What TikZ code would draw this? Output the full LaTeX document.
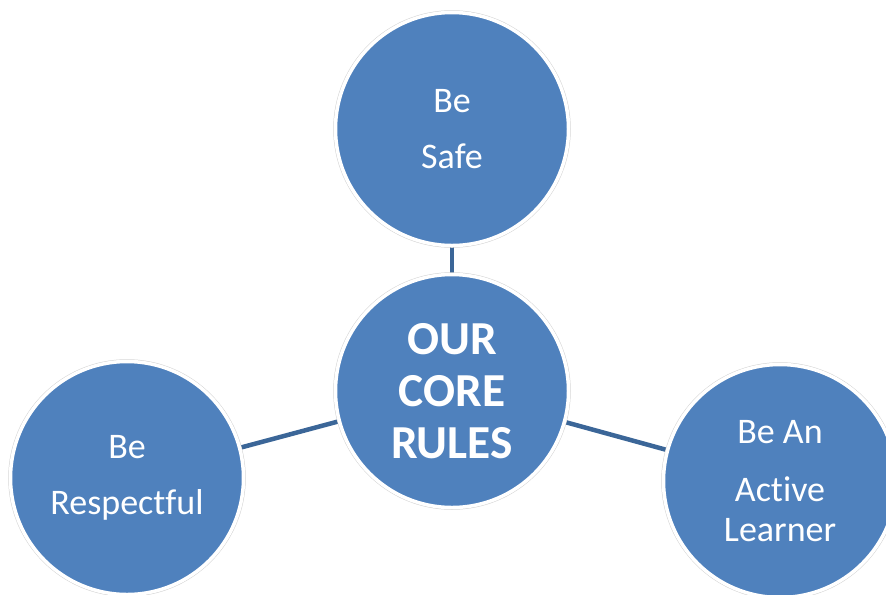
\documentclass[tikz,border=0pt]{standalone}
\usepackage{fontspec}
\setmainfont{Carlito}[Ligatures=NoCommon]
\usepackage{tikz}
\usetikzlibrary{positioning,backgrounds}

\definecolor{ruleblue}{HTML}{4F81BD}
\definecolor{linkblue}{HTML}{3B6698}

\begin{document}
\begin{tikzpicture}[
    x=0.75pt, y=-0.75pt,
    rule/.style={
		circle,
		minimum size=233*0.75pt,
		inner sep=0pt,
		fill=ruleblue,
		draw=white,
		line width=3.5*0.75pt,
		preaction={draw=gray!35, line width=4.5*0.75pt},
		text=white,
		align=center,
		font=\fontsize{27}{42}\selectfont
	},
	core/.style={
		rule,
		font=\bfseries\fontsize{35.5}{39}\selectfont
	},
	link/.style={
		draw=linkblue,
		line width=4.5*0.75pt
	}
  ]
  \useasboundingbox (0,0) rectangle (886,594);

    % the four circles
  \node [core] (core) at (452,391) {OUR\\CORE\\RULES};
  \node [rule] (safe) at (452,129) {Be\\Safe};
  \node [rule] (respect) at (127,478) {Be\\Respectful};
  \node [rule] (learner) at (780,481) {Be An\\[1.5pt]Active\\[-12pt]Learner};

    % the links
  \begin{scope}[on background layer]
  \draw [link] (core) -- (safe);
  \draw [link] (core) -- (respect);
  \draw [link] (core) -- (learner);
  \end{scope}

\end{tikzpicture}
\end{document}
